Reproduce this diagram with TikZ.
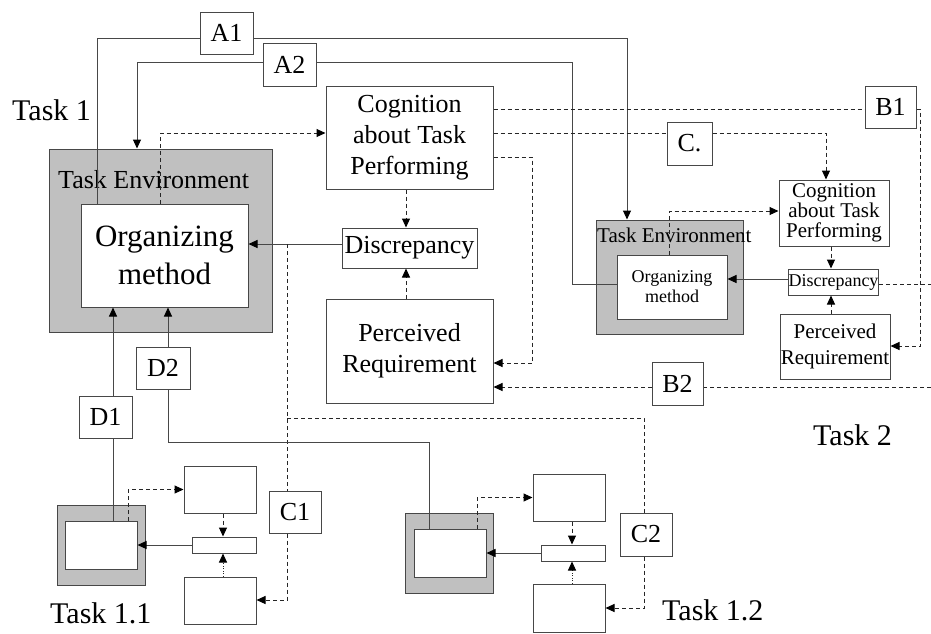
\documentclass[tikz,border=0pt]{standalone}
\usepackage{fontspec}
\setmainfont{Liberation Serif}
\usetikzlibrary{arrows.meta}
\definecolor{lc}{gray}{0.28}
\definecolor{envgray}{HTML}{C0C0C0}
\begin{document}
\begin{tikzpicture}[x=1pt,y=-1pt,
  box/.style={draw=lc, fill=white, line width=1pt, inner sep=0pt, align=center},
  gbox/.style={draw=lc, fill=envgray, line width=1pt, inner sep=0pt},
  lbl/.style={inner sep=0pt, anchor=base west},
  ln/.style={draw=lc, line width=1pt},
  dl/.style={draw=black!85, line width=1pt, dash pattern=on 4pt off 3pt},
  dotl/.style={draw=black!85, line width=1pt, dash pattern=on 1pt off 1.5pt},
  arr/.style={-{Triangle[length=9pt,width=8pt,color=black]}},
  fA/.style={font=\fontsize{31}{38}\selectfont},
  fB/.style={font=\fontsize{26}{31}\selectfont},
  fL/.style={font=\fontsize{30}{36}\selectfont},
  fC/.style={font=\fontsize{21}{20}\selectfont},
  fCp/.style={font=\fontsize{21}{26}\selectfont},
  fD/.style={font=\fontsize{18}{20}\selectfont}]
\useasboundingbox (0,0) rectangle (931,633);

% ---------- Task 1 ----------
\node[gbox, minimum width=223pt, minimum height=183pt] (te1) at (160.5,240.5) {};
\node[lbl, fB] (te1l) at (58,188) {Task Environment};
\node[box, fA, minimum width=167pt, minimum height=103pt] (org1) at (164.5,255.5) {Organizing\\method};
\node[box, fB, minimum width=167pt, minimum height=103pt] (cog1) at (409.5,137.5) {Cognition\\about Task\\Performing};
\node[box, fB, minimum width=135pt, minimum height=40pt] (disc1) at (409.5,248) {Discrepancy};
\node[box, fB, minimum width=167pt, minimum height=104pt] (pr1) at (409.5,351) {Perceived\\Requirement};

% ---------- Task 2 ----------
\node[gbox, minimum width=147pt, minimum height=114pt] (te2) at (669.5,277) {};
\node[lbl, fC] (te2l) at (597,242) {Task Environment};
\node[box, fD, minimum width=110pt, minimum height=64pt] (org2) at (672,287) {Organizing\\method};
\node[box, fC, minimum width=110pt, minimum height=66pt] (cog2) at (834,213) {Cognition\\about Task\\Performing};
\node[box, fD, minimum width=89pt, minimum height=26pt] (disc2) at (833.5,282) {Discrepancy};
\node[box, fCp, minimum width=110pt, minimum height=65pt] (pr2) at (835,346.5) {Perceived\\Requirement};

% ---------- labels on links ----------
\node[box, fB, minimum width=53pt, minimum height=42pt] (A1) at (226.5,33) {A1};
\node[box, fB, minimum width=53pt, minimum height=43pt] (A2) at (289.5,64.5) {A2};
\node[box, fB, minimum width=51pt, minimum height=42pt] (B1) at (890.5,107) {B1};
\node[box, fB, minimum width=45pt, minimum height=43pt] (Cd) at (689.5,143.5) {C.};
\node[box, fB, minimum width=51pt, minimum height=43pt] (B2) at (677.5,383.5) {B2};
\node[box, fB, minimum width=53pt, minimum height=42pt] (D1) at (105.5,417) {D1};
\node[box, fB, minimum width=54pt, minimum height=42pt] (D2) at (163,368) {D2};
\node[box, fB, minimum width=52pt, minimum height=42pt] (C1) at (295,512) {C1};
\node[box, fB, minimum width=52pt, minimum height=43pt] (C2) at (646,534.5) {C2};

% ---------- Task 1.1 ----------
\node[gbox, minimum width=88pt, minimum height=80pt] (te11) at (101,545) {};
\node[box, minimum width=72pt, minimum height=48pt] (org11) at (101,545) {};
\node[box, minimum width=72pt, minimum height=47pt] (top11) at (220,489.5) {};
\node[box, minimum width=64pt, minimum height=16pt] (disc11) at (224,545) {};
\node[box, minimum width=72pt, minimum height=47pt] (bot11) at (220,600.5) {};

% ---------- Task 1.2 ----------
\node[gbox, minimum width=88pt, minimum height=80pt] (te12) at (449,553) {};
\node[box, minimum width=72pt, minimum height=48pt] (org12) at (450,553) {};
\node[box, minimum width=72pt, minimum height=47pt] (top12) at (569,497.5) {};
\node[box, minimum width=64pt, minimum height=16pt] (disc12) at (573,553) {};
\node[box, minimum width=72pt, minimum height=48pt] (bot12) at (569,608) {};

% ---------- task titles ----------
\node[lbl, fL] (t1) at (12,120) {Task 1};
\node[lbl, fL] (t2) at (813,445) {Task 2};
\node[lbl, fL] (t11) at (50,623) {Task 1.1};
\node[lbl, fL] (t12) at (662,620) {Task 1.2};

% ---------- connectors ----------
% A1 / A2
\draw[ln] (A1.west |- 0,38) -| (org1.north -| 97,0);
\draw[ln,arr] (A1.east |- 0,38) -| (te2.north -| 627,0);
\draw[ln,arr] (A2.west |- 0,62) -| (te1.north -| 137,0);
\draw[ln] (A2.east |- 0,62) -| (572,284) -- (org2.west |- 0,284);

% Task 1 internal
\draw[dl,arr] (org1.north -| 160,0) |- (cog1.west |- 0,133);
\draw[dl,arr] (cog1.south -| 406,0) -- (disc1.north -| 406,0);
\draw[dl,arr] (pr1.north -| 406,0) -- (disc1.south -| 406,0);
\draw[ln,arr] (disc1.west |- 0,244) -- (org1.east |- 0,244);
\draw[dl,arr] (cog1.east |- 0,157) -| (532,363) -- (pr1.east |- 0,363);

% B1, C.
\draw[dl] (cog1.east |- 0,109) -- (B1.west |- 0,109);
\draw[dl,arr] (B1.east |- 0,109) -| (920,346) -- (pr2.east |- 0,346);
\draw[dl] (cog1.east |- 0,133) -- (Cd.west |- 0,133);
\draw[dl,arr] (Cd.east |- 0,133) -| (cog2.north -| 826,0);

% Task 2 internal
\draw[dl,arr] (org2.north -| 669,0) |- (cog2.west |- 0,211);
\draw[dl,arr] (cog2.south -| 831,0) -- (disc2.north -| 831,0);
\draw[dl,arr] (pr2.north -| 831,0) -- (disc2.south -| 831,0);
\draw[ln,arr] (disc2.west |- 0,279) -- (org2.east |- 0,279);

% right edge links
\coordinate (eR1) at (931,284);
\coordinate (eR2) at (931,387);
\draw[dl] (disc2.east |- eR1) -- (eR1);
\draw[dl] (eR2) -- (B2.east |- eR2);
\draw[dl,arr] (B2.west |- eR2) -- (pr1.east |- eR2);

% C1 / C2
\coordinate (j1) at (287,244);
\coordinate (j2) at (287,418);
\draw[dl] (j1) -- (C1.north -| j1);
\draw[dl] (j2) -| (C2.north -| 644,0);
\draw[dl,arr] (C1.south -| j1) |- (bot11.east |- 0,600);
\draw[dl,arr] (C2.south -| 644,0) |- (bot12.east |- 0,608);

% D1 / D2
\draw[ln] (org11.north -| 113,0) -- (D1.south -| 113,0);
\draw[ln,arr] (D1.north -| 113,0) -- (org1.south -| 113,0);
\draw[ln,arr] (D2.north -| 168,0) -- (org1.south -| 168,0);
\draw[ln] (D2.south -| 168,0) |- (429,442) -- (org12.north -| 429,0);

% Task 1.1 internal
\draw[dl,arr] (org11.north -| 128,0) |- (top11.west);
\draw[dl,arr] (top11.south -| 223,0) -- (disc11.north -| 223,0);
\draw[ln,arr] (disc11.west) -- (org11.east |- disc11.west);
\draw[dotl,arr] (bot11.north -| 223,0) -- (disc11.south -| 223,0);

% Task 1.2 internal
\draw[dl,arr] (org12.north -| 477,0) |- (top12.west);
\draw[dl,arr] (top12.south -| 572,0) -- (disc12.north -| 572,0);
\draw[ln,arr] (disc12.west) -- (org12.east |- disc12.west);
\draw[dotl,arr] (bot12.north -| 572,0) -- (disc12.south -| 572,0);
\end{tikzpicture}
\end{document}
